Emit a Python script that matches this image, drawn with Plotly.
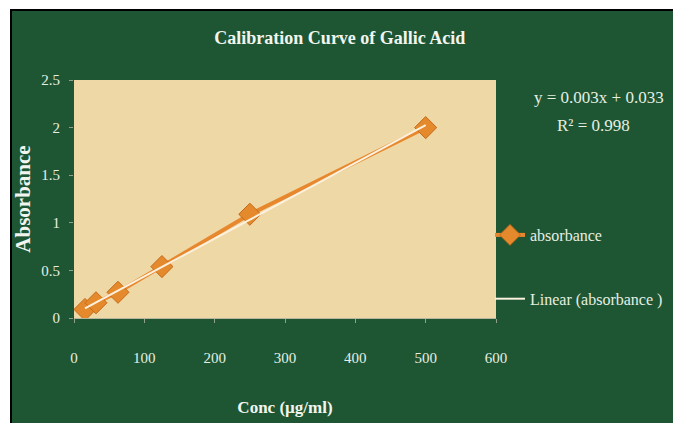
import numpy as np
import plotly.graph_objects as go

# ---- data ----
conc = [15.625, 31.25, 62.5, 125, 250, 500]
absorbance = [0.09, 0.16, 0.27, 0.54, 1.09, 2.0]
x_ticks = [0, 100, 200, 300, 400, 500, 600]
y_ticks = [0, 0.5, 1, 1.5, 2, 2.5]
equation_text = "y = 0.003x + 0.033"
r2_text = "R² = 0.998"
title_text = "Calibration Curve of Gallic Acid"
x_title = "Conc (µg/ml)"
y_title = "Absorbance"

# linear trendline fitted to the data
slope, intercept = np.polyfit(conc, absorbance, 1)
trend_x = [min(conc), max(conc)]
trend_y = [slope * v + intercept for v in trend_x]

W, H = 673, 423
L, R, T, B = 74, 496, 80, 318  # plot area pixel box
def px(x):
    return (x - L) / (R - L)
def py(y):
    return (B - y) / (B - T)

SERIF = "Liberation Serif, Times New Roman, serif"
TXT = "#e6efe2"
GREEN = "#1e5634"
ORANGE = "#e8882e"

fig = go.Figure()
fig.add_trace(go.Scatter(
    x=conc, y=absorbance, mode="lines+markers", name="absorbance",
    line=dict(color=ORANGE, width=4),
    marker=dict(symbol="diamond", size=17, color="#e58a2c",
                line=dict(color="#c46a1a", width=1)),
    legendgroup="a",
))
fig.add_trace(go.Scatter(
    x=trend_x, y=trend_y, mode="lines", name="Linear (absorbance )",
    line=dict(color="#fbf1de", width=2),
    legendgroup="b",
))

fig.update_layout(
    width=W, height=H,
    margin=dict(l=L, r=W - R, t=T, b=H - B, autoexpand=False),
    paper_bgcolor="white",
    plot_bgcolor="#eed9a6",
    title=dict(text="<b>" + title_text + "</b>", x=0.505, xanchor="center",
               y=1 - 38 / H, yanchor="middle",
               font=dict(family=SERIF, size=18, color="#f2f5ee")),
    showlegend=True,
    legend=dict(x=px(490), y=py(218), xanchor="left", yanchor="top",
                bgcolor="rgba(0,0,0,0)", tracegroupgap=40,
                font=dict(family=SERIF, size=16, color=TXT),
                itemwidth=30),
    xaxis=dict(range=[0, 600], tickvals=x_ticks, showgrid=False, zeroline=False,
               showline=True, linecolor="#b9b6a0", linewidth=1,
               ticks="outside", ticklen=4, tickcolor="#8fa08f",
               ticklabelstandoff=22,
               tickfont=dict(family=SERIF, size=15, color=TXT),
               title=dict(text="<b>" + x_title + "</b>", standoff=36,
                          font=dict(family=SERIF, size=17, color="#f2f5ee"))),
    yaxis=dict(range=[0, 2.5], tickvals=y_ticks, showgrid=False, zeroline=False,
               showline=False, ticks="outside", ticklen=4, tickcolor="#8fa08f",
               ticklabelstandoff=6,
               tickfont=dict(family=SERIF, size=15, color=TXT),
               title=dict(text="<b>" + y_title + "</b>", standoff=4,
                          font=dict(family=SERIF, size=21, color="#f2f5ee"))),
    shapes=[
        dict(type="rect", xref="paper", yref="paper", layer="below",
             x0=px(11), x1=px(W + 5), y0=py(H + 5), y1=py(10),
             fillcolor=GREEN, line=dict(color="black", width=2)),
        dict(type="rect", xref="paper", yref="paper", layer="below",
             x0=0, x1=1, y0=0, y1=1,
             fillcolor="#eed9a6", line=dict(width=0)),
    ],
    annotations=[
        dict(text=equation_text, xref="paper", yref="paper", x=px(599), y=py(97),
             showarrow=False, xanchor="center", yanchor="middle",
             font=dict(family=SERIF, size=17, color=TXT)),
        dict(text=r2_text, xref="paper", yref="paper", x=px(593), y=py(125),
             showarrow=False, xanchor="center", yanchor="middle",
             font=dict(family=SERIF, size=17, color=TXT)),
    ],
)

fig.write_html("out.html", config={"displayModeBar": False},
               post_script="document.body.style.margin='0';document.body.style.overflow='hidden';")
